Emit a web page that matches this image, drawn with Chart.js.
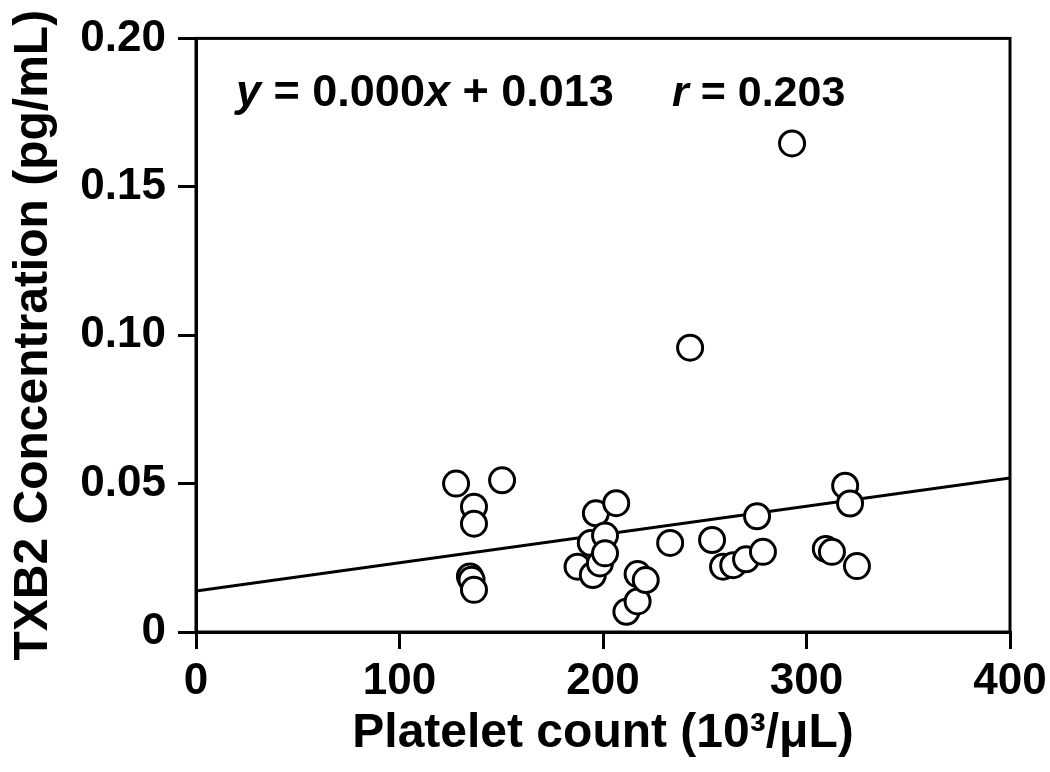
<!DOCTYPE html>
<html lang="en">
<head>
    <meta charset="UTF-8">
    <title>TXB2 vs Platelet count</title>
    <script src="https://cdn.jsdelivr.net/npm/chart.js"></script>
    <style>
        html, body { margin: 0; padding: 0; background: #fff; }
        .chart-box { width: 1050px; height: 772px; }
    </style>
</head>
<body>
    <div class="chart-box">
        <canvas id="txbChart" width="1050" height="772"></canvas>
    </div>
    <script>
        // data
        const plateletCount = [127.8, 150.4, 136.6, 136.6, 134.6, 135.4, 136.6,
            187.5, 194.0, 196.5, 206.5, 201.0, 195.0, 198.5, 201.0,
            211.5, 217.0, 217.0, 221.0, 233.0, 253.6, 242.8,
            259.0, 264.0, 270.3, 278.6, 275.7, 292.9,
            309.5, 312.5, 319.0, 321.4, 324.8];
        const txb2Conc = [0.0500, 0.0511, 0.0422, 0.0365, 0.0187, 0.0176, 0.0142,
            0.0220, 0.0300, 0.0400, 0.0434, 0.0325, 0.0192, 0.0231, 0.0265,
            0.0068, 0.0103, 0.0195, 0.0175, 0.0300, 0.0310, 0.0958,
            0.0220, 0.0225, 0.0245, 0.0270, 0.0390, 0.1646,
            0.0280, 0.0270, 0.0493, 0.0433, 0.0222];
        const fitX = [0, 400];
        const fitY = [0.0138, 0.0519];
        const yTicks = [0, 0.05, 0.10, 0.15, 0.20];
        const xTicks = [0, 100, 200, 300, 400];

        const FONT = "'Liberation Sans', Arial, sans-serif";

        // frame round the plot + equation text
        const framePlugin = {
            id: 'frame',
            afterDraw(chart) {
                const a = chart.chartArea;
                const c = chart.ctx;
                c.save();
                c.strokeStyle = '#000';
                c.lineWidth = 3;
                c.strokeRect(a.left, a.top, a.right - a.left, a.bottom - a.top);

                c.fillStyle = '#000';
                c.textBaseline = 'alphabetic';
                const drawParts = (parts, x, size) => {
                    parts.forEach(p => {
                        c.font = (p[1] ? 'italic ' : '') + 'bold ' + size + 'px ' + FONT;
                        c.fillText(p[0], x, 106);
                        x += c.measureText(p[0]).width;
                    });
                };
                drawParts([['y', true], [' = 0.000', false], ['x', true], [' + 0.013', false]], 236, 45);
                drawParts([['r', true], [' = 0.203', false]], 672, 43);
                c.restore();
            }
        };

        const ctx = document.getElementById('txbChart').getContext('2d');
        new Chart(ctx, {
            type: 'scatter',
            data: {
                datasets: [
                    {
                        type: 'line',
                        data: fitX.map((v, i) => ({ x: v, y: fitY[i] })),
                        borderColor: '#000',
                        borderWidth: 3,
                        pointRadius: 0,
                        fill: false,
                        order: 2
                    },
                    {
                        data: plateletCount.map((v, i) => ({ x: v, y: txb2Conc[i] })),
                        pointStyle: 'circle',
                        pointRadius: 12.5,
                        pointBorderWidth: 3,
                        pointBackgroundColor: '#fff',
                        pointBorderColor: '#000',
                        order: 1
                    }
                ]
            },
            options: {
                responsive: false,
                animation: false,
                layout: { padding: { top: 38, right: 40, left: 0, bottom: 0 } },
                plugins: { legend: { display: false }, tooltip: { enabled: false } },
                scales: {
                    x: {
                        type: 'linear',
                        min: 0, max: 400,
                        afterBuildTicks: s => { s.ticks = xTicks.map(v => ({ value: v })); },
                        afterFit: s => { s.height = 140; s.paddingRight = 0; s.paddingLeft = 0; },
                        grid: { drawOnChartArea: false, drawTicks: true, tickLength: 17, color: '#000', lineWidth: 3 },
                        border: { display: true, color: '#000', width: 3 },
                        ticks: { color: '#000', font: { family: FONT, size: 44, weight: 'bold' }, padding: 6, maxRotation: 0 },
                        title: {
                            display: true,
                            text: 'Platelet count (10³/μL)',
                            color: '#000',
                            font: { family: FONT, size: 48, weight: 'bold' },
                            padding: { top: 0, bottom: 9 }
                        }
                    },
                    y: {
                        type: 'linear',
                        min: 0, max: 0.2,
                        afterBuildTicks: s => { s.ticks = yTicks.map(v => ({ value: v })); },
                        afterFit: s => { s.width = 196; },
                        grid: { drawOnChartArea: false, drawTicks: true, tickLength: 18, color: '#000', lineWidth: 3 },
                        border: { display: true, color: '#000', width: 3 },
                        ticks: {
                            color: '#000',
                            font: { family: FONT, size: 44, weight: 'bold' },
                            padding: 12,
                            callback: v => v === 0 ? '0' : v.toFixed(2)
                        },
                        title: {
                            display: true,
                            text: 'TXB2 Concentration (pg/mL)',
                            color: '#000',
                            font: { family: FONT, size: 48, weight: 'bold' },
                            padding: { top: 5, bottom: 0 }
                        }
                    }
                }
            },
            plugins: [framePlugin]
        });
    </script>
</body>
</html>
